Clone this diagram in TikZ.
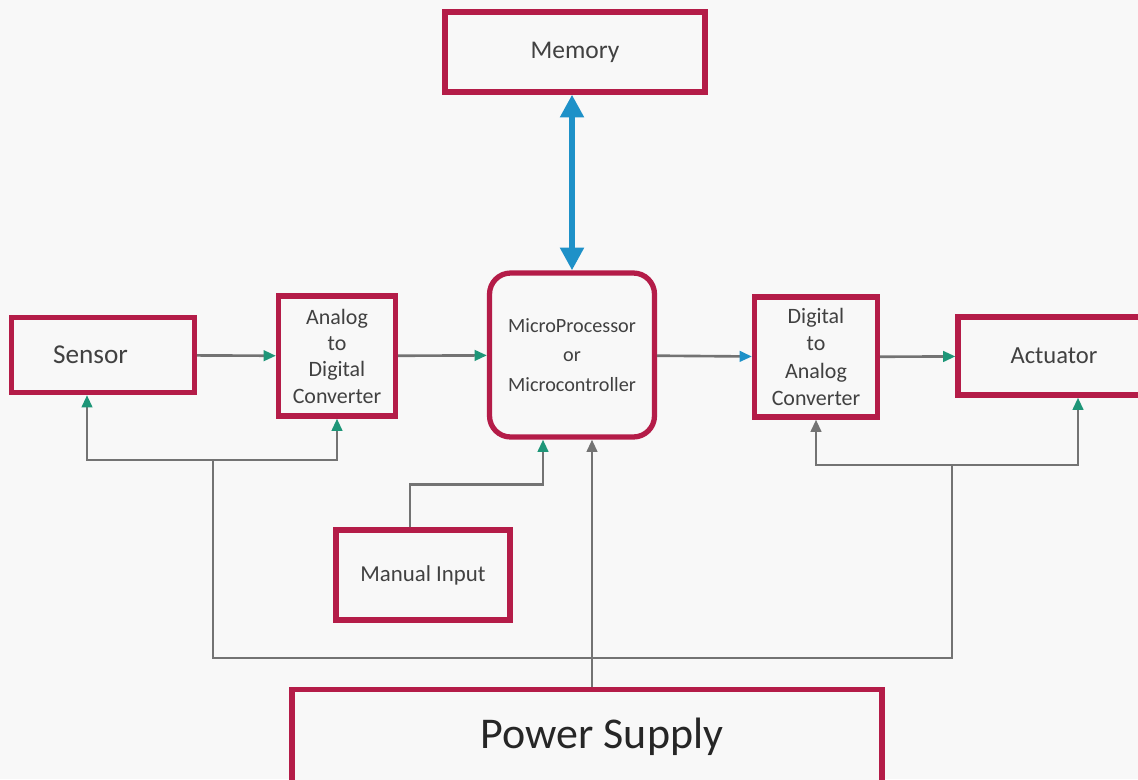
\documentclass[tikz,border=0pt]{standalone}
\usepackage{fontspec}
\setmainfont{Carlito}
\usetikzlibrary{arrows.meta,positioning}
\definecolor{boxred}{RGB}{180,28,72}
\definecolor{wiregray}{RGB}{115,115,115}
\definecolor{tipgreen}{RGB}{30,150,120}
\definecolor{busblue}{RGB}{30,145,200}
\definecolor{txtgray}{RGB}{65,65,65}
\definecolor{bg}{RGB}{248,248,248}
\tikzset{
  block/.style={draw=boxred,line width=3pt,fill=bg,text=txtgray,align=center,inner sep=2pt},
  wire/.style={draw=wiregray,line width=1.5pt},
  feed/.style={wire,-{Triangle[color=tipgreen,length=7pt,width=6pt]}},
  bus/.style={draw=busblue,line width=3.5pt,{Triangle[length=13pt,width=13pt]}-{Triangle[length=13pt,width=13pt]}}
}
\begin{document}
\begin{tikzpicture}[x=0.02cm,y=-0.02cm]
\clip (0,0) rectangle (1138,779);
\fill[bg] (0,0) rectangle (1138,779);
% blocks
\node[block,minimum width=5.2cm,minimum height=1.6cm,font=\fontsize{14.5}{16}\selectfont] (mem) at (575,52) {Memory};
\node[block,minimum width=3.66cm,minimum height=1.5cm,font=\fontsize{15.5}{18}\selectfont] (sensor) at (103,355) {Sensor\hspace{0.5cm}};
\node[block,minimum width=2.34cm,minimum height=2.4cm,font=\fontsize{12.5}{15}\selectfont] (adc) at (337,356) {Analog\\to\\Digital\\Converter};
\node[block,rounded corners=12pt,minimum width=3.3cm,minimum height=3.28cm,font=\fontsize{11.5}{17}\selectfont] (mcu) at (572,355) {MicroProcessor\\or\\Microcontroller};
\node[block,minimum width=2.46cm,minimum height=2.4cm,font=\fontsize{12.5}{15.5}\selectfont] (dac) at (816,357) {Digital\\to\\Analog\\Converter};
\node[block,minimum width=3.84cm,minimum height=1.56cm,font=\fontsize{14}{16}\selectfont] (act) at (1054,356) {Actuator};
\node[block,minimum width=3.48cm,minimum height=1.8cm,font=\fontsize{13}{15}\selectfont] (man) at (423,575) {Manual Input};
\node[block,minimum width=11.8cm,minimum height=1.9cm,text=black!85,font=\fontsize{25}{28}\selectfont] (psu) at (587,737) {\hspace{0.6cm}Power Supply};
% signal path
\draw[bus] (mem.south -| mcu) -- (mcu);
\draw[feed] (sensor) -- (adc);
\draw[feed] (adc) -- (mcu);
\draw[wire,-{Triangle[color=busblue,length=7pt,width=6pt]}] (mcu) -- (dac);
\draw[feed] (dac) -- (act);
% supply lines
\coordinate (lbus) at (213,460);
\coordinate (rbus) at (952,465);
\coordinate (rlow) at (952,658);
\coordinate (pwrin) at ([xshift=0.4cm]mcu.south);
\coordinate (manin) at ([xshift=-0.58cm]mcu.south);
\draw[wire] (lbus) |- (rlow) -- (rbus);
\draw[feed] (lbus) -| ([xshift=-0.32cm]sensor.south);
\draw[feed] (lbus) -| (adc.south);
\draw[wire,-{Triangle[color=wiregray,length=7pt,width=6pt]}] (rbus) -| (dac.south);
\draw[feed] (rbus) -| ([xshift=0.48cm]act.south);
\draw[wire,-{Triangle[color=wiregray,length=7pt,width=6pt]}] (psu.north -| pwrin) -- (pwrin);
\draw[feed] ([xshift=-0.26cm]man.north) -- ++(0,-43) -| (manin);
\end{tikzpicture}
\end{document}
